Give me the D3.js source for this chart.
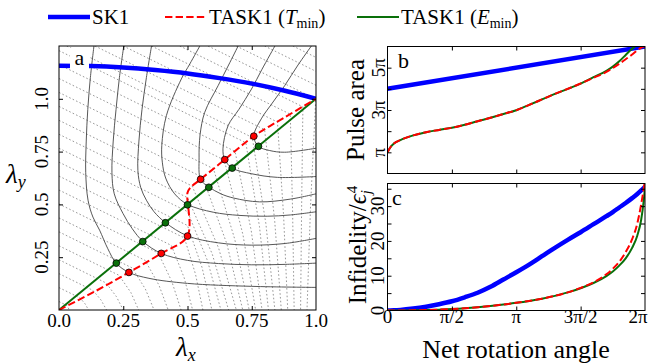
<!DOCTYPE html>
<html>
<head>
<meta charset="utf-8">
<style>
  body { margin: 0; padding: 0; background: white; }
  text { font-family: "Liberation Serif", "Times New Roman", Tinos, serif; }
  .frame { fill: none; stroke: black; stroke-width: 1; }
  .tick line { stroke: black; stroke-width: 1; }
  .dotted { fill: none; stroke: #8c8c8c; stroke-width: 0.9; stroke-dasharray: 1.6,2.2; }
  .solid { fill: none; stroke: #444; stroke-width: 0.9; }
</style>
</head>
<body>
<div id="chart"></div>
<script src="https://d3js.org/d3.v7.min.js"></script>
<script>
// ---- panel a : paths in the (lambda_x, lambda_y) plane ----
var sk1Path = [[0,1.157],[0.125,1.155],[0.25,1.148],[0.375,1.136],[0.5,1.12],[0.625,1.098],[0.75,1.072],[0.875,1.039],[1,1]]
var tminPath = [[0,0],[0.14,0.088],[0.272,0.178],[0.398,0.268],[0.5,0.35],[0.5,0.555],[0.51,0.578],[0.551,0.619],[0.645,0.712],[0.758,0.823],[0.878,0.912],[1,1]]
var tminDots = [[0.272,0.178],[0.398,0.268],[0.5,0.35],[0.551,0.619],[0.645,0.712],[0.758,0.823]]
var eminPath = [[0,0],[1,1]]
var eminDots = [[0.223,0.222],[0.326,0.324],[0.414,0.413],[0.5,0.498],[0.583,0.581],[0.674,0.672],[0.776,0.775]]

// solid contours (equal net rotation angle)
var angleContours = [
  [[0.136,1.25],[0.122,1.1],[0.112,0.95],[0.106,0.8],[0.104,0.65],[0.113,0.52],[0.132,0.44],[0.158,0.378],[0.19,0.29],[0.223,0.221],[0.272,0.178],[0.35,0.15],[0.5,0.126],[0.75,0.112],[1.0,0.107]],
  [[0.252,1.25],[0.235,1.1],[0.222,0.95],[0.211,0.8],[0.206,0.65],[0.215,0.55],[0.249,0.457],[0.285,0.385],[0.327,0.324],[0.398,0.268],[0.5,0.235],[0.62,0.22],[0.75,0.214],[0.88,0.216],[1.0,0.222]],
  [[0.36,1.25],[0.34,1.1],[0.323,0.95],[0.311,0.8],[0.307,0.66],[0.318,0.58],[0.34,0.52],[0.37,0.465],[0.414,0.414],[0.5,0.351],[0.62,0.318],[0.75,0.307],[0.88,0.315],[1.0,0.339]],
  [[0.548,1.25],[0.509,1.165],[0.476,1.094],[0.418,0.921],[0.40,0.78],[0.402,0.7],[0.415,0.625],[0.45,0.55],[0.5,0.5],[0.6,0.463],[0.7,0.448],[0.81,0.444],[0.9,0.45],[1.0,0.465]],
  [[0.697,1.25],[0.66,1.16],[0.619,1.062],[0.567,0.936],[0.549,0.83],[0.545,0.72],[0.551,0.619],[0.584,0.582],[0.63,0.55],[0.68,0.53],[0.78,0.512],[0.9,0.525],[1.0,0.55]],
  [[0.84,1.25],[0.79,1.14],[0.749,1.046],[0.7,0.95],[0.658,0.873],[0.638,0.763],[0.645,0.712],[0.674,0.672],[0.75,0.645],[0.85,0.628],[1.0,0.632]],
  [[0.982,1.25],[0.93,1.16],[0.878,1.062],[0.83,0.98],[0.787,0.905],[0.758,0.823],[0.776,0.775],[0.82,0.755],[0.878,0.747],[1.0,0.766]]
]

// dotted contours (pulse area): straight above the T_min path, steep below it
var dottedContours = [
  [[0,0.04],[0.031,0.021],[0.036,0.0105],[0.04,0]],
  [[0,0.106],[0.082,0.057],[0.102,0.0285],[0.115,0]],
  [[0,0.172],[0.132,0.093],[0.164,0.0465],[0.185,0]],
  [[0,0.238],[0.183,0.128],[0.223,0.064],[0.25,0]],
  [[0,0.304],[0.234,0.164],[0.280,0.082],[0.31,0]],
  [[0,0.37],[0.285,0.199],[0.336,0.0995],[0.37,0]],
  [[0,0.436],[0.335,0.235],[0.389,0.1175],[0.425,0]],
  [[0,0.502],[0.386,0.270],[0.439,0.135],[0.475,0]],
  [[0,0.568],[0.437,0.306],[0.487,0.153],[0.52,0]],
  [[0,0.634],[0.488,0.341],[0.531,0.1705],[0.56,0]],
  [[0,0.70],[0.5,0.40],[0.557,0.20],[0.595,0]],
  [[0,0.766],[0.5,0.466],[0.578,0.233],[0.63,0]],
  [[0,0.832],[0.5,0.532],[0.596,0.266],[0.66,0]],
  [[0,0.898],[0.518,0.587],[0.621,0.2935],[0.69,0]],
  [[0,0.964],[0.559,0.628],[0.653,0.314],[0.715,0]],
  [[0,1.03],[0.601,0.669],[0.684,0.3345],[0.74,0]],
  [[0,1.096],[0.643,0.710],[0.716,0.355],[0.765,0]],
  [[0,1.162],[0.685,0.751],[0.748,0.3755],[0.79,0]],
  [[0,1.228],[0.727,0.792],[0.780,0.396],[0.815,0]],
  [[0.03,1.25],[0.752,0.817],[0.805,0.4085],[0.84,0]],
  [[0.14,1.25],[0.800,0.854],[0.839,0.427],[0.865,0]],
  [[0.25,1.25],[0.850,0.890],[0.874,0.445],[0.89,0]],
  [[0.36,1.25],[0.900,0.927],[0.909,0.4635],[0.915,0]],
  [[0.47,1.25],[0.949,0.962],[0.944,0.481],[0.94,0]],
  [[0.58,1.25],[0.999,0.999],[0.979,0.4995],[0.965,0]],
  [[0.69,1.25],[1,1.064]],
  [[0.80,1.25],[1,1.13]],
  [[0.91,1.25],[1,1.196]]
]

var aTicks = [0, 0.25, 0.5, 0.75, 1.0]
var aTickLabels = ["0.0", "0.25", "0.5", "0.75", "1.0"]

// ---- panels b and c : against net rotation angle (units of pi) ----
var angles = [0,0.02,0.05,0.1,0.2,0.3,0.4,0.5,0.6,0.7,0.8,0.9,1.0,1.1,1.2,1.3,1.4,1.5,1.6,1.7,1.75,1.8,1.85,1.9,1.94,1.97,1.99,2.0]
var sk1Angles = [0, 2]
var sk1Area = [4, 6]
var areaEmin = [1.0,1.22,1.42,1.58,1.8,1.95,2.06,2.16,2.3,2.47,2.63,2.81,2.99,3.24,3.5,3.76,4.0,4.25,4.55,4.85,5.05,5.3,5.6,5.9,6.08,6.2,6.25,6.3]
var areaTmin = [1.0,1.22,1.42,1.58,1.8,1.95,2.06,2.16,2.3,2.47,2.63,2.81,2.99,3.24,3.5,3.76,4.0,4.25,4.52,4.8,4.98,5.18,5.4,5.62,5.82,5.95,6.0,6.02]
var infSK1 = [0,0.01,0.04,0.15,0.55,1.1,1.8,2.65,3.8,5.1,6.8,8.9,11.0,13.2,15.6,18.0,20.3,22.5,24.8,27.1,28.3,29.6,30.9,32.3,33.5,34.5,35.2,35.6]
var infEmin = [0,0,0,0.01,0.05,0.12,0.25,0.42,0.65,0.95,1.3,1.72,2.2,2.75,3.4,4.2,5.2,6.4,7.9,9.9,11.2,12.9,15.0,18.0,21.5,26.0,31.5,35.5]
var infTmin = [0,0,0,0.01,0.05,0.12,0.25,0.42,0.65,0.95,1.3,1.72,2.2,2.75,3.4,4.2,5.2,6.5,8.1,10.4,12.0,14.0,16.8,20.5,25.0,30.5,35.0,37.5]

var angleTicks = [0, 0.5, 1, 1.5, 2]
var angleTickLabels = ["0", "\u03c0/2", "\u03c0", "3\u03c0/2", "2\u03c0"]
var areaTicks = [1, 2, 3, 4, 5]
var areaTickLabels = {1: "\u03c0", 3: "3\u03c0", 5: "5\u03c0"}
var infTicks = [0, 5, 10, 15, 20, 25, 30, 35]
var infTickLabels = {0: "0", 10: "10", 20: "20", 30: "30"}

var blue = "#0000ff", red = "#ff0000", green = "#0a700a"

var width = 653, height = 364
var svg = d3.select("#chart").append("svg")
  .attr("width", width)
  .attr("height", height)

var boxA = {left: 59, right: 316, top: 46, bottom: 310}
var boxB = {left: 387.5, right: 645, top: 46.5, bottom: 173.5}
var boxC = {left: 387.5, right: 645, top: 183.5, bottom: 310.5}

var xA = d3.scaleLinear().domain([0, 1]).range([boxA.left, boxA.right])
var yA = d3.scaleLinear().domain([0, 1.25]).range([boxA.bottom, boxA.top])
var xB = d3.scaleLinear().domain([0, 2]).range([boxB.left, boxB.right])
var yB = d3.scaleLinear().domain([0, 6]).range([boxB.bottom, boxB.top])
var yC = d3.scaleLinear().domain([0, 36.5]).range([boxC.bottom, boxC.top])

var defs = svg.append("defs")
function addClip(id, box) {
  defs.append("clipPath").attr("id", id).append("rect")
    .attr("x", box.left).attr("y", box.top)
    .attr("width", box.right - box.left).attr("height", box.bottom - box.top)
}
addClip("clipA", boxA)
addClip("clipB", boxB)
addClip("clipC", boxC)

// inward ticks on all four sides, no labels
function drawTicks(box, xs, ys, xt, yt) {
  var g = svg.append("g")
  g.append("g").attr("transform", "translate(0," + box.bottom + ")")
    .call(d3.axisBottom(xs).tickValues(xt).tickSizeInner(-4).tickSizeOuter(0).tickFormat(""))
  g.append("g").attr("transform", "translate(0," + box.top + ")")
    .call(d3.axisTop(xs).tickValues(xt).tickSizeInner(-4).tickSizeOuter(0).tickFormat(""))
  g.append("g").attr("transform", "translate(" + box.left + ",0)")
    .call(d3.axisLeft(ys).tickValues(yt).tickSizeInner(-4).tickSizeOuter(0).tickFormat(""))
  g.append("g").attr("transform", "translate(" + box.right + ",0)")
    .call(d3.axisRight(ys).tickValues(yt).tickSizeInner(-4).tickSizeOuter(0).tickFormat(""))
  g.selectAll(".domain").remove()
  svg.append("rect").attr("class", "frame")
    .attr("x", box.left).attr("y", box.top)
    .attr("width", box.right - box.left).attr("height", box.bottom - box.top)
}

// ================= panel a =================
var gA = svg.append("g").attr("clip-path", "url(#clipA)")
var lineA = d3.line().x(function(d) { return xA(d[0]) }).y(function(d) { return yA(d[1]) })

gA.selectAll(".dotted").data(dottedContours).enter().append("path")
  .attr("class", "dotted")
  .attr("d", lineA.curve(d3.curveLinear))

gA.selectAll(".solid").data(angleContours).enter().append("path")
  .attr("class", "solid")
  .attr("d", lineA.curve(d3.curveCatmullRom.alpha(0.5)))

gA.append("path").datum(sk1Path)
  .attr("fill", "none").attr("stroke", blue).attr("stroke-width", 4.5)
  .attr("d", lineA.curve(d3.curveMonotoneX))

gA.append("path").datum(eminPath)
  .attr("fill", "none").attr("stroke", green).attr("stroke-width", 2)
  .attr("d", lineA.curve(d3.curveLinear))

gA.append("path").datum(tminPath)
  .attr("fill", "none").attr("stroke", red).attr("stroke-width", 2)
  .attr("stroke-dasharray", "7.4,3.2")
  .attr("d", lineA.curve(d3.curveCatmullRom.alpha(0.5)))

gA.selectAll(".tdot").data(tminDots).enter().append("circle")
  .attr("cx", function(d) { return xA(d[0]) })
  .attr("cy", function(d) { return yA(d[1]) })
  .attr("r", 3.4).attr("fill", red).attr("stroke", "black").attr("stroke-width", 0.8)

gA.selectAll(".edot").data(eminDots).enter().append("circle")
  .attr("cx", function(d) { return xA(d[0]) })
  .attr("cy", function(d) { return yA(d[1]) })
  .attr("r", 3.4).attr("fill", green).attr("stroke", "black").attr("stroke-width", 0.8)

drawTicks(boxA, xA, yA, aTicks.slice(1, 4), aTicks.slice(1))

// panel letter with white box
svg.append("rect").attr("x", 70).attr("y", 48).attr("width", 19).attr("height", 21).attr("fill", "white")
svg.append("text").attr("x", 79.5).attr("y", 64.5).attr("text-anchor", "middle")
  .style("font-size", "22px").text("a")

// tick labels panel a
svg.append("g").selectAll("text").data(aTicks).enter().append("text")
  .attr("x", function(d) { return xA(d) })
  .attr("y", 327)
  .attr("text-anchor", "middle")
  .style("font-size", "19px")
  .text(function(d, i) { return aTickLabels[i] })

svg.append("g").selectAll("text").data(aTicks.slice(1)).enter().append("text")
  .attr("transform", function(d) { return "translate(41," + yA(d) + ") rotate(-90)" })
  .attr("text-anchor", "middle")
  .attr("dy", "0.35em")
  .style("font-size", "19px")
  .text(function(d, i) { return aTickLabels[i + 1] })

// axis labels panel a
var lx = svg.append("text").attr("x", 176).attr("y", 356).style("font-size", "27px")
lx.append("tspan").style("font-style", "italic").text("\u03bb")
lx.append("tspan").attr("dy", 5).style("font-size", "18px").style("font-style", "italic").text("x")

var ly = svg.append("text").attr("x", 6).attr("y", 183).style("font-size", "27px")
ly.append("tspan").style("font-style", "italic").text("\u03bb")
ly.append("tspan").attr("dy", 5).style("font-size", "18px").style("font-style", "italic").text("y")

// ================= panel b =================
var gB = svg.append("g").attr("clip-path", "url(#clipB)")
var lineB = d3.line().x(function(d) { return xB(d[0]) }).y(function(d) { return yB(d[1]) })

gB.append("path").datum(sk1Angles.map(function(a, i) { return [a, sk1Area[i]] }))
  .attr("fill", "none").attr("stroke", blue).attr("stroke-width", 4.5)
  .attr("d", lineB)
gB.append("path").datum(angles.map(function(a, i) { return [a, areaEmin[i]] }))
  .attr("fill", "none").attr("stroke", green).attr("stroke-width", 2)
  .attr("d", lineB.curve(d3.curveMonotoneX))
gB.append("path").datum(angles.map(function(a, i) { return [a, areaTmin[i]] }))
  .attr("fill", "none").attr("stroke", red).attr("stroke-width", 2)
  .attr("stroke-dasharray", "7.4,3.2")
  .attr("d", lineB.curve(d3.curveMonotoneX))

drawTicks(boxB, xB, yB, angleTicks.slice(1, 4), areaTicks)

svg.append("g").selectAll("text").data(areaTicks.filter(function(d) { return areaTickLabels[d] })).enter().append("text")
  .attr("transform", function(d) { return "translate(378," + yB(d) + ") rotate(-90)" })
  .attr("text-anchor", "middle")
  .attr("dy", "0.35em")
  .style("font-size", "19px")
  .text(function(d) { return areaTickLabels[d] })

svg.append("text")
  .attr("transform", "translate(355," + ((boxB.top + boxB.bottom) / 2) + ") rotate(-90)")
  .attr("text-anchor", "middle").attr("dy", "0.35em")
  .style("font-size", "25px").text("Pulse area")

svg.append("text").attr("x", 398).attr("y", 68).style("font-size", "22px").text("b")

// ================= panel c =================
var gC = svg.append("g").attr("clip-path", "url(#clipC)")
var lineC = d3.line().x(function(d) { return xB(d[0]) }).y(function(d) { return yC(d[1]) }).curve(d3.curveMonotoneX)

gC.append("path").datum(angles.map(function(a, i) { return [a, infSK1[i]] }))
  .attr("fill", "none").attr("stroke", blue).attr("stroke-width", 4.5)
  .attr("d", lineC)
gC.append("path").datum(angles.map(function(a, i) { return [a, infEmin[i]] }))
  .attr("fill", "none").attr("stroke", green).attr("stroke-width", 2)
  .attr("d", lineC)
gC.append("path").datum(angles.map(function(a, i) { return [a, infTmin[i]] }))
  .attr("fill", "none").attr("stroke", red).attr("stroke-width", 2)
  .attr("stroke-dasharray", "7.4,3.2")
  .attr("d", lineC)

drawTicks(boxC, xB, yC, angleTicks.slice(1, 4), infTicks.slice(1))

svg.append("g").selectAll("text").data(infTicks.filter(function(d) { return infTickLabels[d] })).enter().append("text")
  .attr("transform", function(d) { return "translate(377," + yC(d) + ") rotate(-90)" })
  .attr("text-anchor", "middle")
  .attr("dy", "0.35em")
  .style("font-size", "19px")
  .text(function(d) { return infTickLabels[d] })

svg.append("g").selectAll("text").data(angleTicks).enter().append("text")
  .attr("x", function(d) { return Math.min(xB(d), 638) })
  .attr("y", 323)
  .attr("text-anchor", "middle")
  .style("font-size", "19px")
  .text(function(d, i) { return angleTickLabels[i] })

svg.append("text").attr("x", 516).attr("y", 358).attr("text-anchor", "middle")
  .style("font-size", "26px").text("Net rotation angle")

// Infidelity / eps_j^4 label, rotated
var infLab = svg.append("g").attr("transform", "translate(357,245) rotate(-90)")
var infMain = infLab.append("text").attr("x", 0).attr("y", 0).attr("dy", "0.35em")
  .attr("text-anchor", "middle").style("font-size", "25px")
infMain.append("tspan").text("Infidelity/")
infMain.append("tspan").style("font-style", "italic").text("\u03f5")
infMain.append("tspan").attr("dx", 1).attr("dy", -9).style("font-size", "15px").text("4")
var mainEnd = infMain.node().getComputedTextLength() / 2
infLab.append("text").attr("x", mainEnd - 8).attr("y", 14)
  .style("font-size", "15px").style("font-style", "italic").text("j")

svg.append("text").attr("x", 392).attr("y", 205).style("font-size", "22px").text("c")

// ================= legend =================
var legend = svg.append("g")
var legendItems = [
  {x: 48, color: blue, w: 4.5, dash: null, label: "SK1", sub: null},
  {x: 165, color: red, w: 2, dash: "7.4,3.2", label: "TASK1 (", it: "T", sub: "min"},
  {x: 357, color: green, w: 2, dash: null, label: "TASK1 (", it: "E", sub: "min"}
]
legendItems.forEach(function(d) {
  legend.append("line")
    .attr("x1", d.x).attr("x2", d.x + 42).attr("y1", 17).attr("y2", 17)
    .attr("stroke", d.color).attr("stroke-width", d.w)
    .attr("stroke-dasharray", d.dash)
  var t = legend.append("text").attr("x", d.x + 44).attr("y", 24).style("font-size", "21px")
  t.append("tspan").text(d.label)
  if (d.sub) {
    t.append("tspan").style("font-style", "italic").text(d.it)
    t.append("tspan").attr("dy", 4).style("font-size", "14px").text(d.sub)
    t.append("tspan").attr("dy", -4).text(")")
  }
})
</script>
</body>
</html>
